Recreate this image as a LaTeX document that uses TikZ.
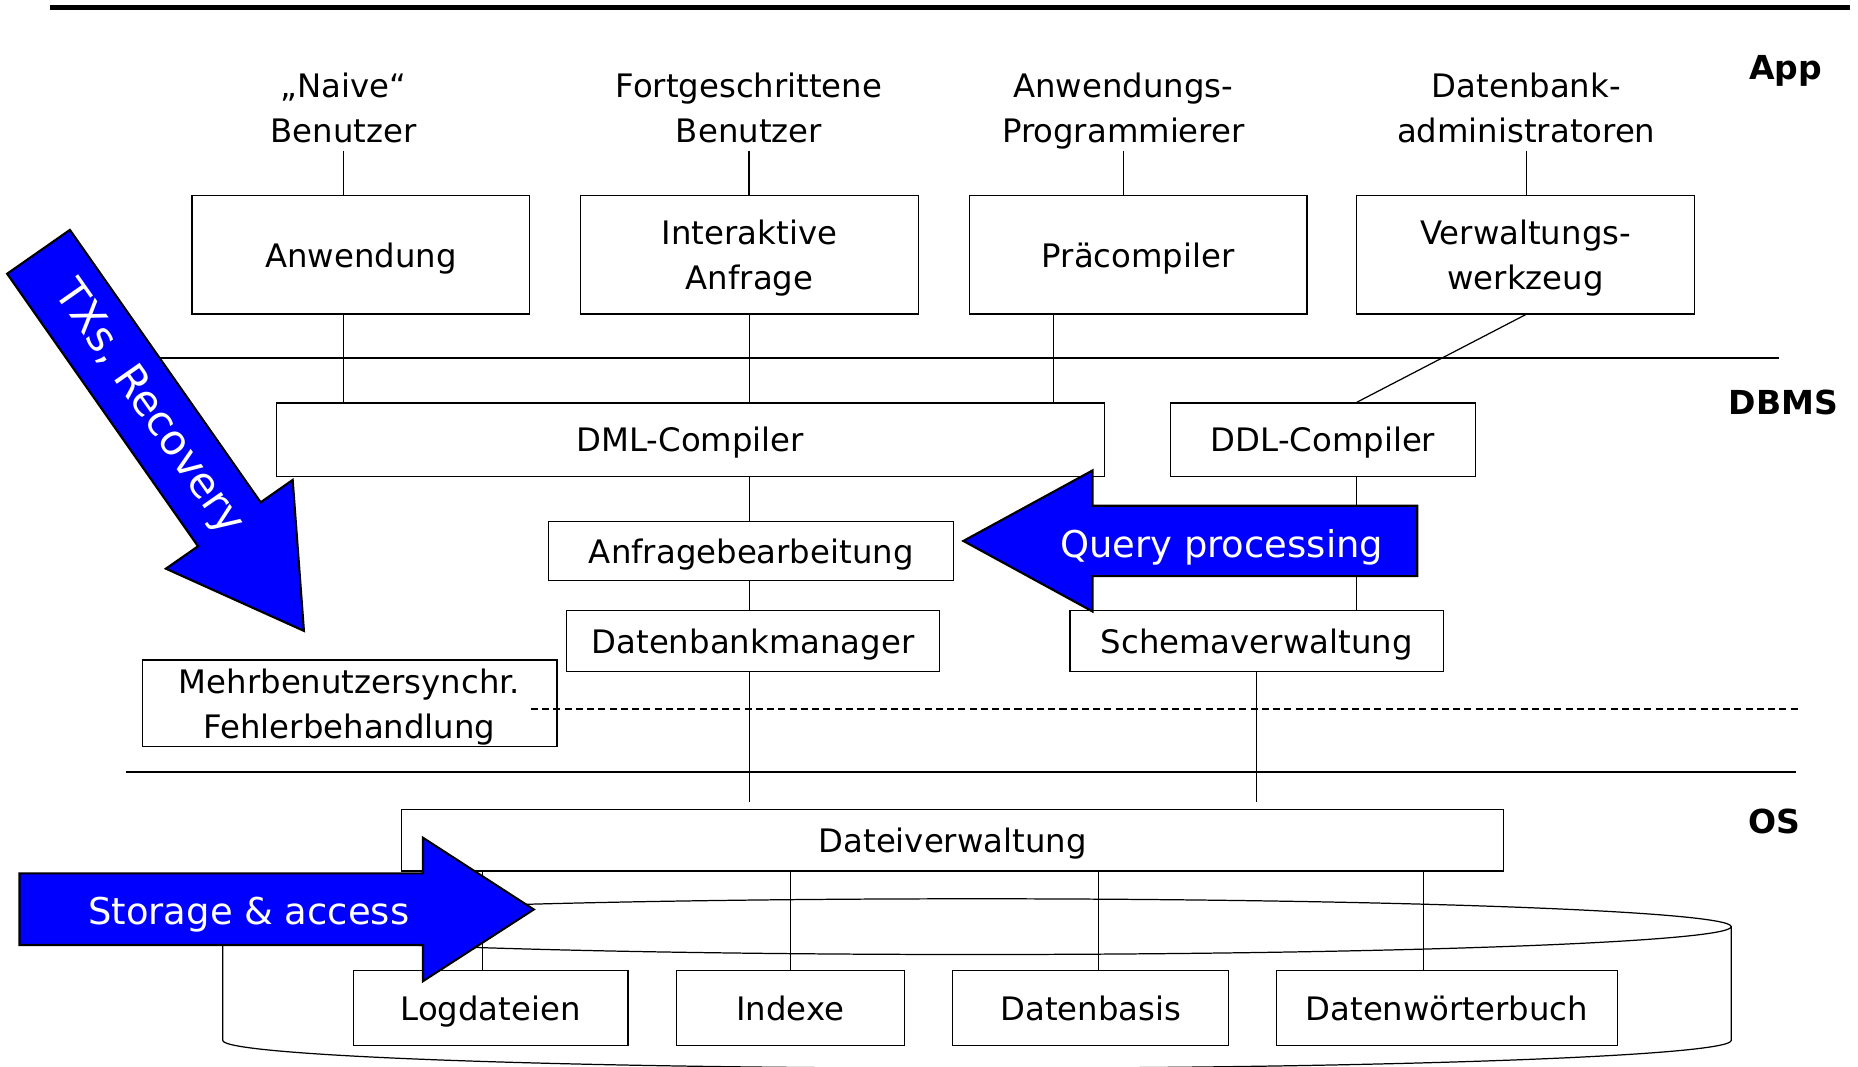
\documentclass[tikz,border=0pt]{standalone}
\usepackage{fontspec}
\setmainfont{DejaVu Sans}
\usepackage{xcolor}
\usepackage{tikz}

\begin{document}
\begin{tikzpicture}[x=1.1849cm,y=-1.1849cm,
  box/.style={draw,line width=0.35pt,align=center,inner sep=0pt,text depth=0pt,font=\fontsize{9.2}{12.8}\selectfont},
  user/.style={align=center,anchor=south,inner xsep=0pt,inner ysep=2.2pt,text depth=0pt,font=\fontsize{9.2}{12.8}\selectfont},
  layer/.style={anchor=base,font=\fontsize{9.4}{11}\selectfont\bfseries},
  sep/.style={line width=0.5pt},
  conn/.style={line width=0.35pt},
  bigarrow/.style={draw,fill=blue,line width=0.6pt,line join=miter},
  arrowtext/.style={text=white,font=\fontsize{10.5}{12}\selectfont}]

  \useasboundingbox (0,0) rectangle (15.68,9.004);

  \draw[line width=1.4pt] (0.42,0.06) -- (15.61,0.06);
  \draw[sep] (1.06,3.023) -- (15.01,3.023);
  \draw[sep,dash pattern=on 2pt off 1.2pt] (4.48,5.986) -- (15.17,5.986);
  \draw[sep] (1.06,6.512) -- (15.16,6.512);

  \node[layer] (app)  at (15.07,0.67) {App};
  \node[layer] (dbms) at (15.05,3.50) {DBMS};
  \node[layer] (os)   at (14.975,7.03) {OS};

  \draw[conn] (8.245,7.82) ellipse[x radius=7.542cm,y radius=0.2785cm];
  \draw[conn] (1.88,7.82) -- (1.88,8.78) arc[start angle=180,end angle=360,x radius=7.542cm,y radius=0.2785cm] -- (14.61,7.82);

  \node[user] (naive) at (2.90,1.27)  {„Naive“\\Benutzer};
  \node[user] (fort)  at (6.32,1.27)  {Fortgeschrittene\\Benutzer};
  \node[user] (anwp)  at (9.48,1.27)  {Anwendungs-\\Programmierer};
  \node[user] (dba)   at (12.88,1.27) {Datenbank-\\administratoren};

  \node[box,minimum width=3.377cm,minimum height=1.185cm] (anw) at (3.045,2.15)  {Anwendung};
  \node[box,minimum width=3.377cm,minimum height=1.185cm] (ia)  at (6.325,2.15)  {Interaktive\\Anfrage};
  \node[box,minimum width=3.377cm,minimum height=1.185cm] (prc) at (9.605,2.15)  {Präcompiler};
  \node[box,minimum width=3.377cm,minimum height=1.185cm] (vw)  at (12.875,2.15) {Verwaltungs-\\werkzeug};

  \node[box,minimum width=8.282cm,minimum height=0.735cm] (dml) at (5.825,3.71)  {DML-Compiler};
  \node[box,minimum width=3.045cm,minimum height=0.735cm] (ddl) at (11.165,3.71) {DDL-Compiler};
  \node[box,minimum width=4.052cm,minimum height=0.592cm] (ab)  at (6.34,4.65)   {Anfragebearbeitung};
  \node[box,minimum width=3.732cm,minimum height=0.616cm] (dbm) at (6.355,5.41)  {Datenbankmanager};
  \node[box,minimum width=3.732cm,minimum height=0.616cm] (sv)  at (10.605,5.41) {Schemaverwaltung};
  \node[box,minimum width=4.147cm,minimum height=0.865cm] (mb)  at (2.95,5.935)  {Mehrbenutzersynchr.\\Fehlerbehandlung};

  \node[box,minimum width=11.02cm,minimum height=0.616cm] (dv) at (8.04,7.09) {Dateiverwaltung};
  \node[box,minimum width=2.749cm,minimum height=0.746cm] (logd) at (4.14,8.505)  {Logdateien};
  \node[box,minimum width=2.275cm,minimum height=0.746cm] (idx)  at (6.67,8.505)  {Indexe};
  \node[box,minimum width=2.761cm,minimum height=0.746cm] (dbs)  at (9.205,8.505) {Datenbasis};
  \node[box,minimum width=3.412cm,minimum height=0.746cm] (dwb)  at (12.21,8.505) {Datenwörterbuch};

  \draw[conn] (naive.south) -- (naive.south |- anw.north);
  \draw[conn] (fort.south) -- (fort.south |- ia.north);
  \draw[conn] (anwp.south) -- (anwp.south |- prc.north);
  \draw[conn] (dba.south) -- (dba.south |- vw.north);

  \draw[conn] (anw.south -| naive.south) -- (dml.north -| naive.south);
  \draw[conn] (ia.south) -- (ia.south |- dml.north);
  \draw[conn] ([xshift=-0.847cm]prc.south) -- ([xshift=-0.847cm]prc.south |- dml.north);
  \draw[conn] (vw.south) -- ([xshift=0.338cm]ddl.north);

  \draw[conn] (dml.south -| ia.south) -- (ab.north -| ia.south);
  \draw[conn] (ab.south -| ia.south) -- (dbm.north -| ia.south);
  \draw[conn] ([xshift=0.338cm]ddl.south) -- ([xshift=0.338cm]ddl.south |- sv.north);
  \draw[conn,shorten >=2pt] (dbm.south -| ia.south) -- (dv.north -| ia.south);
  \draw[conn,shorten >=2pt] (sv.south) -- (sv.south |- dv.north);

  \draw[conn] ([xshift=-0.083cm]logd.north) -- ([xshift=-0.083cm]logd.north |- dv.south);
  \draw[conn] (idx.north) -- (idx.north |- dv.south);
  \draw[conn] ([xshift=0.077cm]dbs.north) -- ([xshift=0.077cm]dbs.north |- dv.south);
  \draw[conn] ([xshift=-0.237cm]dwb.north) -- ([xshift=-0.237cm]dwb.north |- dv.south);

  \draw[bigarrow] (0.060,2.310) -- (0.590,1.940) -- (2.200,4.239) -- (2.470,4.050)
    -- (2.565,5.324) -- (1.400,4.799) -- (1.671,4.610) -- cycle;
  \node[arrowtext,font=\fontsize{12}{14}\selectfont,rotate=-55] (txs) at (1.251,3.448) {TXs, Recovery};

  \draw[bigarrow] (8.13,4.565) -- (9.22,3.97) -- (9.22,4.268) -- (11.96,4.268)
    -- (11.96,4.862) -- (9.22,4.862) -- (9.22,5.16) -- cycle;
  \node[arrowtext,anchor=base] (qp) at (10.31,4.703) {Query processing};

  \draw[bigarrow] (0.165,7.37) -- (3.57,7.37) -- (3.57,7.07) -- (4.505,7.675)
    -- (3.57,8.28) -- (3.57,7.975) -- (0.165,7.975) -- cycle;
  \node[arrowtext,anchor=base] (sa) at (2.10,7.806) {Storage \& access};
\end{tikzpicture}
\end{document}
